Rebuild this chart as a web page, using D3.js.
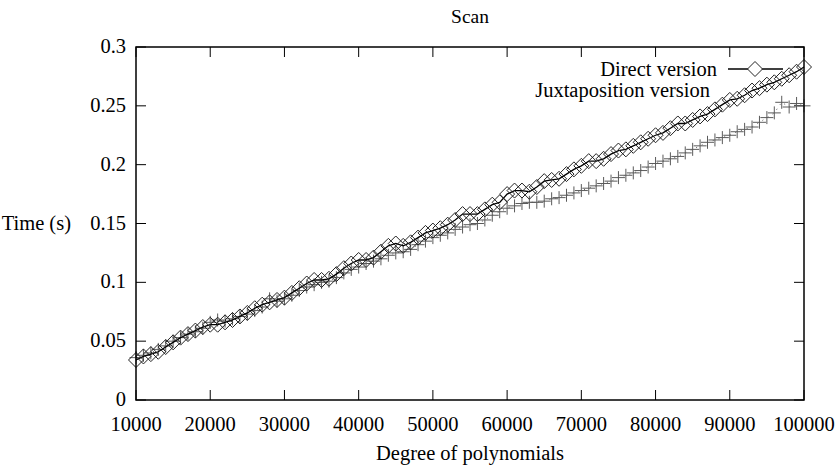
<!DOCTYPE html>
<html><head><meta charset="utf-8">
<script src="https://cdn.jsdelivr.net/npm/d3@7"></script>
<style>body{margin:0;background:#fff}svg{display:block}</style>
</head><body><svg id="c" width="839" height="466"></svg>
<script>
const degrees = d3.range(10000, 100001, 1000);
const directTimes = [0.034,0.037,0.039,0.041,0.045,0.049,0.053,0.056,0.059,0.062,
0.064,0.064,0.066,0.068,0.071,0.074,0.078,0.081,0.083,0.085,
0.087,0.091,0.095,0.099,0.102,0.102,0.103,0.107,0.112,0.116,
0.119,0.119,0.121,0.126,0.131,0.133,0.131,0.134,0.138,0.142,
0.144,0.146,0.149,0.153,0.158,0.158,0.158,0.162,0.166,0.168,
0.175,0.178,0.178,0.177,0.181,0.186,0.187,0.188,0.192,0.196,
0.199,0.203,0.203,0.205,0.209,0.212,0.213,0.216,0.219,0.222,
0.225,0.227,0.231,0.235,0.235,0.238,0.241,0.243,0.247,0.251,
0.255,0.256,0.259,0.263,0.265,0.268,0.270,0.273,0.276,0.279,0.283];
const juxtaTimes = [0.036,0.038,0.040,0.043,0.046,0.050,0.053,0.056,0.058,0.061,
0.066,0.068,0.067,0.069,0.071,0.073,0.076,0.079,0.086,0.084,
0.086,0.089,0.093,0.096,0.098,0.100,0.101,0.104,0.108,0.111,
0.113,0.116,0.118,0.120,0.123,0.125,0.126,0.128,0.132,0.135,
0.138,0.140,0.142,0.145,0.147,0.149,0.150,0.153,0.157,0.160,
0.163,0.165,0.167,0.168,0.168,0.169,0.171,0.172,0.174,0.176,
0.178,0.180,0.182,0.184,0.186,0.189,0.191,0.193,0.195,0.198,
0.201,0.203,0.205,0.207,0.210,0.213,0.216,0.219,0.221,0.223,
0.225,0.228,0.230,0.232,0.236,0.240,0.244,0.253,0.249,0.252,0.250];
const xTicks = [10000,20000,30000,40000,50000,60000,70000,80000,90000,100000];
const yTicks = [0,0.05,0.1,0.15,0.2,0.25,0.3];
const yTickLabels = ["0","0.05","0.1","0.15","0.2","0.25","0.3"];
const seriesNames = ["Direct version","Juxtaposition version"];

const L=136,R=804,T=47,B=400;
const svg=d3.select("#c");
const x=d3.scaleLinear().domain([10000,100000]).range([L,R]);
const y=d3.scaleLinear().domain([0,0.3]).range([B,T]);
const fs=20.5;
const FONT="Liberation Serif";
function txt(px,py,anchor,size,s){
  return svg.append("text").attr("x",px).attr("y",py).attr("text-anchor",anchor)
    .style("font-family",FONT).style("font-size",size+"px").attr("fill","#000").text(s);
}

const ax=svg.append("g").attr("stroke","#000").attr("stroke-width",1);
xTicks.forEach(v=>{
  ax.append("line").attr("x1",x(v)).attr("x2",x(v)).attr("y1",B).attr("y2",B-10);
  ax.append("line").attr("x1",x(v)).attr("x2",x(v)).attr("y1",T).attr("y2",T+10);
});
yTicks.forEach(v=>{
  ax.append("line").attr("x1",L).attr("x2",L+10).attr("y1",y(v)).attr("y2",y(v));
  ax.append("line").attr("x1",R).attr("x2",R-10).attr("y1",y(v)).attr("y2",y(v));
});
xTicks.forEach(v=>txt(x(v),431,"middle",fs,v));
yTicks.forEach((v,i)=>txt(126,y(v)+6,"end",fs,yTickLabels[i]));

txt((L+R)/2,23,"middle",fs-1,"Scan");
txt((L+R)/2,460,"middle",fs,"Degree of polynomials");
txt(71,y(0.15)+6,"end",fs,"Time (s)");

const dirData=degrees.map((d,i)=>[d,directTimes[i]]);
const juxData=degrees.map((d,i)=>[d,juxtaTimes[i]]);
const line=d3.line().x(d=>x(d[0])).y(d=>y(d[1]));

const plot=svg.append("g");
plot.append("path").attr("d",line(juxData)).attr("fill","none").attr("stroke","#555").attr("stroke-width",1).attr("stroke-dasharray","1,5");
juxData.forEach(d=>{
  const cx=x(d[0]),cy=y(d[1]);
  plot.append("path").attr("d",`M${cx-6.5},${cy}H${cx+6.5}M${cx},${cy-6.5}V${cy+6.5}`).attr("stroke","#5a5a5a").attr("stroke-width",1);
});
plot.append("path").attr("d",line(dirData)).attr("fill","none").attr("stroke","#000").attr("stroke-width",1.3);
const dia=(cx,cy,r)=>`M${cx},${cy-r}L${cx+r},${cy}L${cx},${cy+r}L${cx-r},${cy}Z`;
dirData.forEach(d=>{
  plot.append("path").attr("d",dia(x(d[0]),y(d[1]),7.5)).attr("fill","none").attr("stroke","#222").attr("stroke-width",1);
});

svg.append("rect").attr("x",L).attr("y",T).attr("width",R-L).attr("height",B-T).attr("fill","none").attr("stroke","#000").attr("stroke-width",1.5);

txt(717,76,"end",fs,seriesNames[0]);
svg.append("line").attr("x1",728).attr("x2",783).attr("y1",69).attr("y2",69).attr("stroke","#000").attr("stroke-width",1.3);
svg.append("path").attr("d",dia(755,69,7.5)).attr("fill","#fff").attr("stroke","#222").attr("stroke-width",1);
txt(710,97,"end",fs,seriesNames[1]);
</script></body></html>
